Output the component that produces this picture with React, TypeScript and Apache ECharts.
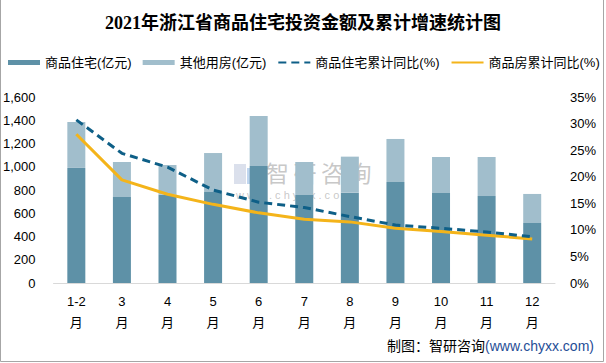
import React, { useEffect, useRef } from "react";
import * as echarts from "echarts";

const categories = ["1-2月", "3月", "4月", "5月", "6月", "7月", "8月", "9月", "10月", "11月", "12月"];
const residential = [990, 740, 760, 783, 1006, 757, 777, 869, 774, 748, 516];
const otherHousing = [395, 301, 255, 335, 431, 284, 310, 370, 310, 336, 250];
const residentialYoY = [30.7, 24.4, 21.8, 17.5, 15.2, 14.2, 12.5, 10.9, 10.3, 9.6, 8.7];
const housingYoY = [28.0, 19.4, 16.7, 14.8, 13.2, 12.0, 11.5, 10.3, 9.7, 9.0, 8.3];
const seriesNames = ["商品住宅(亿元)", "其他用房(亿元)", "商品住宅累计同比(%)", "商品房累计同比(%)"];
const watermarkChars = ["智", "研", "咨", "询"];

const SANS = "'Liberation Sans', 'Noto Sans CJK SC', sans-serif";

export default function App() {
  const ref = useRef<HTMLDivElement>(null);
  useEffect(() => {
    if (!ref.current) return;
    const chart = echarts.init(ref.current, undefined, { renderer: "svg" });
    chart.setOption({
      animation: false,
      backgroundColor: "#ffffff",
      title: {
        text: "2021年浙江省商品住宅投资金额及累计增速统计图",
        left: "center",
        top: 9,
        textStyle: {
          fontSize: 18,
          fontWeight: "bold",
          color: "#000",
          fontFamily: "'Liberation Serif', 'Noto Sans CJK SC', serif",
        },
      },
      legend: {
        left: 8,
        top: 56,
        width: 598,
        padding: 0,
        itemWidth: 32,
        itemHeight: 5,
        itemGap: 11,
        textStyle: { fontSize: 13, color: "#000", fontFamily: SANS },
        data: [
          { name: seriesNames[0], icon: "rect" },
          { name: seriesNames[1], icon: "rect" },
          { name: seriesNames[2], itemStyle: { opacity: 0 } },
          { name: seriesNames[3], itemStyle: { opacity: 0 } },
        ],
      },
      grid: { left: 53, right: 51, top: 97, bottom: 80 },
      xAxis: {
        type: "category",
        data: categories,
        axisLine: { lineStyle: { color: "#d9d9d9", width: 1 } },
        axisTick: { show: false },
        axisLabel: {
          color: "#000",
          fontSize: 13,
          fontFamily: SANS,
          lineHeight: 21,
          margin: 8,
          interval: 0,
          formatter: (v: string) => v.replace("月", "\n月"),
        },
      },
      yAxis: [
        {
          type: "value",
          min: 0,
          max: 1600,
          interval: 200,
          axisLine: { show: false },
          axisTick: { show: false },
          splitLine: { show: false },
          axisLabel: {
            color: "#000",
            fontSize: 13,
            fontFamily: SANS,
            margin: 18,
            formatter: (v: number) => v.toLocaleString("en-US"),
          },
        },
        {
          type: "value",
          min: 0,
          max: 35,
          interval: 5,
          axisLine: { show: false },
          axisTick: { show: false },
          splitLine: { show: false },
          axisLabel: {
            color: "#000",
            fontSize: 13,
            fontFamily: SANS,
            margin: 15,
            formatter: "{value}%",
          },
        },
      ],
      series: [
        {
          name: seriesNames[0],
          type: "bar",
          stack: "a",
          barWidth: 18,
          itemStyle: { color: "#5e91a7" },
          data: residential,
        },
        {
          name: seriesNames[1],
          type: "bar",
          stack: "a",
          barWidth: 18,
          itemStyle: { color: "#a1becc" },
          data: otherHousing,
        },
        {
          name: seriesNames[2],
          type: "line",
          yAxisIndex: 1,
          symbol: "none",
          lineStyle: { color: "#0e5f87", width: 3, type: [8, 5] },
          itemStyle: { color: "#0e5f87" },
          data: residentialYoY,
          z: 4,
        },
        {
          name: seriesNames[3],
          type: "line",
          yAxisIndex: 1,
          symbol: "none",
          lineStyle: { color: "#f4b41a", width: 3 },
          itemStyle: { color: "#f4b41a" },
          data: housingYoY,
          z: 3,
        },
      ],
      graphic: [
        {
          type: "polyline",
          shape: { points: [[0.5, 0], [0.5, 361.5], [603.5, 361.5], [603.5, 0]] },
          style: { stroke: "#a6a6a6", fill: "none", lineWidth: 1 },
          silent: true,
        },
        {
          type: "group",
          z: 100,
          silent: true,
          children: [
            { type: "rect", shape: { x: 234, y: 164, width: 12, height: 20 }, style: { fill: "rgba(190,198,220,0.55)" } },
            { type: "rect", shape: { x: 247, y: 168, width: 12, height: 16 }, style: { fill: "rgba(140,180,225,0.55)" } },
            ...watermarkChars.map((c, i) => ({
              type: "text",
              x: 266 + i * 27.5,
              y: 174,
              style: {
                text: c,
                fontSize: 23,
                fill: "rgba(175,175,175,0.7)",
                fontFamily: SANS,
                verticalAlign: "middle",
              },
            })),
            {
              type: "text",
              x: 236,
              y: 195,
              style: {
                text: "w w w . c h y x x . c o m",
                fontSize: 11,
                fill: "rgba(175,175,175,0.7)",
                fontFamily: SANS,
                verticalAlign: "middle",
              },
            },
          ],
        },
        {
          type: "text",
          right: 12,
          top: 339,
          style: {
            text: "{a|制图：智研咨询}{b|(www.chyxx.com)}",
            rich: {
              a: { fontSize: 14, fill: "#000", fontFamily: SANS },
              b: { fontSize: 14, fill: "#1f4e96", fontFamily: SANS },
            },
          },
          silent: true,
        },
      ],
    });
    return () => chart.dispose();
  }, []);
  return (
    <div
      ref={ref}
      style={{ position: "fixed", left: 0, top: 0, width: 606, height: 363 }}
    />
  );
}
